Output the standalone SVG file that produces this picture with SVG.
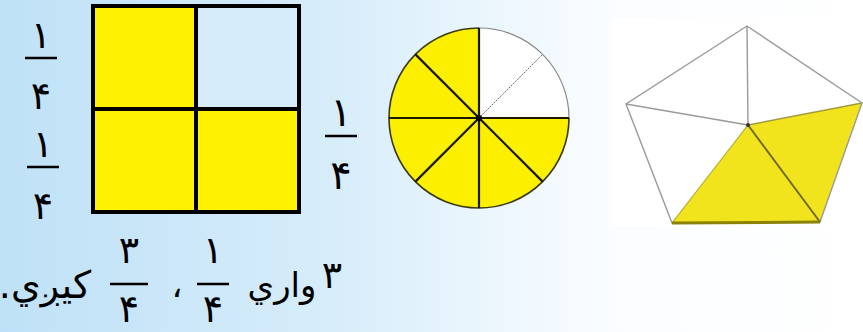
<svg xmlns="http://www.w3.org/2000/svg" width="863" height="332" viewBox="0 0 863 332">
<defs>
<linearGradient id="bg" x1="0" y1="0" x2="1" y2="0">
<stop offset="0" stop-color="#bfe1f7"/>
<stop offset="0.4" stop-color="#d8edfa"/>
<stop offset="0.7" stop-color="#fafdff"/>
<stop offset="1" stop-color="#ffffff"/>
</linearGradient>
</defs>
<style>
.t{font-family:"DejaVu Sans",sans-serif;fill:#000;text-anchor:middle}
.d{font-size:40px}
.s{font-size:38px}
.w{font-size:34px;direction:rtl}
.bar{stroke:#000;stroke-width:2.5}
.sq{stroke:#000;stroke-width:4;fill:none}
.y{fill:#fff200}
.sp{stroke:#1a1a00;stroke-width:2.2}
.pe{stroke:#9a9a9a;stroke-width:1.4;fill:none}
</style>
<rect width="863" height="332" fill="url(#bg)"/>
<rect x="612" y="18" width="251" height="208" fill="#ffffff"/>

<g id="square">
<rect x="93" y="6" width="103" height="103" class="y"/>
<rect x="196" y="6" width="103" height="103" fill="#d6ecfa"/>
<rect x="93" y="109" width="103" height="103" class="y"/>
<rect x="196" y="109" width="103" height="103" class="y"/>
<rect x="93" y="6" width="206" height="206" class="sq"/>
<line x1="196" y1="6" x2="196" y2="212" class="sq"/>
<line x1="93" y1="109" x2="299" y2="109" class="sq"/>
</g>

<g id="frac-left-top">
<text x="41" y="48" class="t s">١</text>
<line x1="25" y1="58" x2="57" y2="58" class="bar"/>
<text x="41" y="109" class="t s">۴</text>
</g>
<g id="frac-left-bottom">
<text x="43" y="157" class="t s">١</text>
<line x1="27" y1="167" x2="59" y2="167" class="bar"/>
<text x="43" y="219" class="t s">۴</text>
</g>
<g id="frac-right">
<text x="341" y="126" class="t d">١</text>
<line x1="325" y1="136" x2="357" y2="136" class="bar"/>
<text x="341" y="189" class="t d">۴</text>
</g>

<g id="circle">
<path d="M479,118 L569,118 A90,90 0 1,1 479,28 Z" fill="#fdef00"/>
<path d="M479,118 L479,28 A90,90 0 0,1 569,118 Z" fill="#ffffff"/>
<path d="M569,118 A90,90 0 1,1 479,28" fill="none" stroke="#3a3a10" stroke-width="1.6"/>
<path d="M479,28 A90,90 0 0,1 569,118" fill="none" stroke="#8a8a8a" stroke-width="1.2"/>
<line x1="479" y1="118" x2="542.6" y2="54.4" stroke="#666" stroke-width="1" stroke-dasharray="2,1"/>
<g class="sp">
<line x1="479" y1="28" x2="479" y2="208"/>
<line x1="389" y1="118" x2="569" y2="118"/>
<line x1="415.4" y1="54.4" x2="542.6" y2="181.6"/>
<line x1="479" y1="118" x2="415.4" y2="181.6"/>
</g>
<circle cx="479" cy="118" r="3" fill="#000"/>
</g>

<g id="pentagon">
<polygon points="748,125 672,223 820,222" fill="#f2e41c"/>
<polygon points="748,125 820,222 862,103" fill="#f2e41c"/>
<polygon points="747,26 862,103 820,222 672,223 626,104" class="pe"/>
<line x1="748" y1="125" x2="747" y2="26" class="pe"/>
<line x1="748" y1="125" x2="626" y2="104" class="pe"/>
<line x1="748" y1="125" x2="862" y2="103" stroke="#a09a40" stroke-width="1.4"/>
<line x1="748" y1="125" x2="672" y2="223" stroke="#b0a830" stroke-width="1.2"/>
<line x1="748" y1="125" x2="820" y2="222" stroke="#6e6a30" stroke-width="2"/>
<line x1="672" y1="223" x2="820" y2="222" stroke="#8a8200" stroke-width="3"/>
<circle cx="748" cy="125" r="2" fill="#333"/>
</g>

<g id="sentence">
<text x="332" y="288" class="t s">٣</text>
<text x="282" y="297" class="t w">واري</text>
<text x="213" y="263" class="t s">١</text>
<line x1="197" y1="284" x2="229" y2="284" class="bar"/>
<text x="213" y="322" class="t s">۴</text>
<text x="177" y="297" class="t w">،</text>
<text x="129" y="263" class="t s">٣</text>
<line x1="110" y1="284" x2="148" y2="284" class="bar"/>
<text x="129" y="322" class="t s">۴</text>
<text x="45" y="298" class="t w" style="font-size:38px">كيږي.</text>
</g>
</svg>
